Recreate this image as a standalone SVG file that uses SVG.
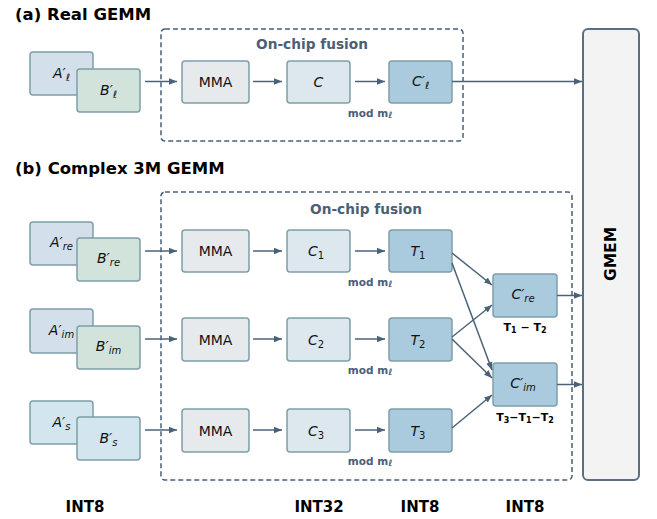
<svg xmlns="http://www.w3.org/2000/svg" width="657" height="519" viewBox="0 0 657 519">
<style>
text{font-family:"DejaVu Sans","Liberation Sans",sans-serif}
.title{font-size:16.5px;font-weight:bold;fill:#000}
.fusion{font-size:13.7px;font-weight:bold;fill:#4a6078;text-anchor:middle}
.dash{fill:none;stroke:#4a6078;stroke-width:1.5;stroke-dasharray:5,3}
.box{stroke:#7f9ea8;stroke-width:1.5}
.a{fill:#d3dfeb}.b{fill:#d2e3dc}.s{fill:#d3e5ee}.mma{fill:#e7eaed}.c{fill:#dde7ee}.t{fill:#aacbdd}
.lbl{font-size:14px;fill:#111;text-anchor:middle}
.m{font-style:italic}
.sub{font-size:10px}
.mod{font-size:10.5px;font-weight:bold;fill:#4a6078;text-anchor:middle}
.eq{font-size:11px;font-weight:bold;fill:#000;text-anchor:middle}
.int{font-size:15px;font-weight:bold;fill:#000;text-anchor:middle}
.con{stroke:#4a6278;stroke-width:1.5;fill:none;marker-end:url(#ah)}
</style>
<defs>
<marker id="ah" markerWidth="9" markerHeight="8" refX="8" refY="4" orient="auto" markerUnits="userSpaceOnUse">
<path d="M0,0.8 L8,4 L0,7.2 Z" fill="#4a6278"/>
</marker>
</defs>
<rect width="657" height="519" fill="#fff"/>

<text class="title" x="15" y="20">(a) Real GEMM</text>
<text class="title" x="15" y="174">(b) Complex 3M GEMM</text>

<g id="fusion-a">
<rect class="dash" x="161" y="29" width="302" height="112" rx="4"/>
<text class="fusion" x="312" y="49">On-chip fusion</text>
</g>
<g id="fusion-b">
<rect class="dash" x="161" y="192" width="411" height="288" rx="4"/>
<text class="fusion" x="366" y="214">On-chip fusion</text>
</g>

<g id="gmem">
<rect x="583" y="29" width="56" height="451" rx="5" fill="#f3f3f3" stroke="#5a6f82" stroke-width="2"/>
<text transform="translate(615.5,254) rotate(-90)" text-anchor="middle" font-size="15.5" font-weight="bold">GMEM</text>
</g>

<!-- Row a -->
<g id="Ai-a"><rect class="box a" x="30" y="52" width="63" height="43" rx="3"/>
<text class="lbl m" x="61.5" y="78">A′<tspan class="sub" dy="3">ℓ</tspan></text></g>
<g id="Bi-a"><rect class="box b" x="77" y="69" width="63" height="43" rx="3"/>
<text class="lbl m" x="108.5" y="95">B′<tspan class="sub" dy="3">ℓ</tspan></text></g>
<g id="mma-a"><rect class="box mma" x="182" y="61" width="67" height="42" rx="3"/>
<text class="lbl" x="215.5" y="87">MMA</text></g>
<g id="c-a"><rect class="box c" x="287" y="61" width="63" height="42" rx="3"/>
<text class="lbl m" x="318.5" y="87">C</text></g>
<g id="cl-a"><rect class="box t" x="389" y="61" width="63" height="42" rx="3"/>
<text class="lbl m" x="420.5" y="86">C′<tspan class="sub" dy="3">ℓ</tspan></text></g>
<text class="mod" x="370" y="117">mod m<tspan font-style="italic" font-size="8.5" dy="1">ℓ</tspan></text>

<!-- Row 1 -->
<g id="Are"><rect class="box a" x="30" y="222" width="63" height="43" rx="3"/>
<text class="lbl m" x="61.5" y="247">A′<tspan class="sub" dy="3">re</tspan></text></g>
<g id="Bre"><rect class="box b" x="77" y="238" width="63" height="43" rx="3"/>
<text class="lbl m" x="108.5" y="263">B′<tspan class="sub" dy="3">re</tspan></text></g>
<g id="mma1"><rect class="box mma" x="182" y="230" width="67" height="42" rx="3"/>
<text class="lbl" x="215.5" y="256">MMA</text></g>
<g id="c1"><rect class="box c" x="287" y="230" width="63" height="42" rx="3"/>
<text class="lbl m" x="316" y="256">C<tspan class="sub" font-style="normal" dy="3">1</tspan></text></g>
<g id="t1"><rect class="box t" x="389" y="230" width="63" height="42" rx="3"/>
<text class="lbl m" x="418" y="256">T<tspan class="sub" font-style="normal" dy="3">1</tspan></text></g>
<text class="mod" x="370" y="286">mod m<tspan font-style="italic" font-size="8.5" dy="1">ℓ</tspan></text>

<!-- Row 2 -->
<g id="Aim"><rect class="box a" x="30" y="309" width="63" height="44" rx="3"/>
<text class="lbl m" x="61.5" y="335">A′<tspan class="sub" dy="3">im</tspan></text></g>
<g id="Bim"><rect class="box b" x="77" y="326" width="63" height="43" rx="3"/>
<text class="lbl m" x="108.5" y="351">B′<tspan class="sub" dy="3">im</tspan></text></g>
<g id="mma2"><rect class="box mma" x="182" y="318" width="67" height="43" rx="3"/>
<text class="lbl" x="215.5" y="344.5">MMA</text></g>
<g id="c2"><rect class="box c" x="287" y="318" width="63" height="43" rx="3"/>
<text class="lbl m" x="316" y="344.5">C<tspan class="sub" font-style="normal" dy="3">2</tspan></text></g>
<g id="t2"><rect class="box t" x="389" y="318" width="63" height="43" rx="3"/>
<text class="lbl m" x="418" y="344.5">T<tspan class="sub" font-style="normal" dy="3">2</tspan></text></g>
<text class="mod" x="370" y="374">mod m<tspan font-style="italic" font-size="8.5" dy="1">ℓ</tspan></text>

<!-- Row 3 -->
<g id="As"><rect class="box s" x="30" y="401" width="63" height="43" rx="3"/>
<text class="lbl m" x="61.5" y="427">A′<tspan class="sub" dy="3">s</tspan></text></g>
<g id="Bs"><rect class="box s" x="77" y="417" width="63" height="43" rx="3"/>
<text class="lbl m" x="108.5" y="443">B′<tspan class="sub" dy="3">s</tspan></text></g>
<g id="mma3"><rect class="box mma" x="182" y="409" width="67" height="43" rx="3"/>
<text class="lbl" x="215.5" y="435.5">MMA</text></g>
<g id="c3"><rect class="box c" x="287" y="409" width="63" height="43" rx="3"/>
<text class="lbl m" x="316" y="435.5">C<tspan class="sub" font-style="normal" dy="3">3</tspan></text></g>
<g id="t3"><rect class="box t" x="389" y="409" width="63" height="43" rx="3"/>
<text class="lbl m" x="418" y="435.5">T<tspan class="sub" font-style="normal" dy="3">3</tspan></text></g>
<text class="mod" x="370" y="465">mod m<tspan font-style="italic" font-size="8.5" dy="1">ℓ</tspan></text>

<!-- Outputs -->
<g id="cre"><rect class="box t" x="493" y="274" width="64" height="43" rx="3"/>
<text class="lbl m" x="523" y="299">C′<tspan class="sub" dy="3">re</tspan></text></g>
<text class="eq" x="525" y="331">T<tspan font-size="8" dy="2">1</tspan><tspan dy="-2"> − T</tspan><tspan font-size="8" dy="2">2</tspan></text>
<g id="cim"><rect class="box t" x="493" y="363" width="64" height="43" rx="3"/>
<text class="lbl m" x="523" y="388">C′<tspan class="sub" dy="3">im</tspan></text></g>
<text class="eq" x="525" y="421">T<tspan font-size="8" dy="2">3</tspan><tspan dy="-2">−T</tspan><tspan font-size="8" dy="2">1</tspan><tspan dy="-2">−T</tspan><tspan font-size="8" dy="2">2</tspan></text>

<text class="int" x="85" y="512">INT8</text>
<text class="int" x="319" y="512">INT32</text>
<text class="int" x="420" y="512">INT8</text>
<text class="int" x="525" y="512">INT8</text>

<g id="connectors">
<line class="con" x1="145" y1="81.5" x2="177" y2="81.5"/>
<line class="con" x1="253" y1="81.5" x2="282" y2="81.5"/>
<line class="con" x1="355" y1="81.5" x2="385" y2="81.5"/>
<line class="con" x1="452" y1="81.5" x2="582" y2="81.5"/>

<line class="con" x1="145" y1="251" x2="177" y2="251"/>
<line class="con" x1="253" y1="251" x2="282" y2="251"/>
<line class="con" x1="355" y1="251" x2="385" y2="251"/>

<line class="con" x1="145" y1="339" x2="177" y2="339"/>
<line class="con" x1="253" y1="339" x2="282" y2="339"/>
<line class="con" x1="355" y1="339" x2="385" y2="339"/>

<line class="con" x1="145" y1="430" x2="177" y2="430"/>
<line class="con" x1="253" y1="430" x2="282" y2="430"/>
<line class="con" x1="355" y1="430" x2="385" y2="430"/>

<line class="con" x1="452" y1="253" x2="492" y2="285"/>
<line class="con" x1="452" y1="263" x2="492" y2="370"/>
<line class="con" x1="452" y1="337" x2="492" y2="305"/>
<line class="con" x1="452" y1="339" x2="492" y2="378"/>
<line class="con" x1="452" y1="428" x2="492" y2="395"/>

<line class="con" x1="557" y1="295.5" x2="582" y2="295.5"/>
<line class="con" x1="557" y1="384.5" x2="582" y2="384.5"/>
</g>
</svg>
